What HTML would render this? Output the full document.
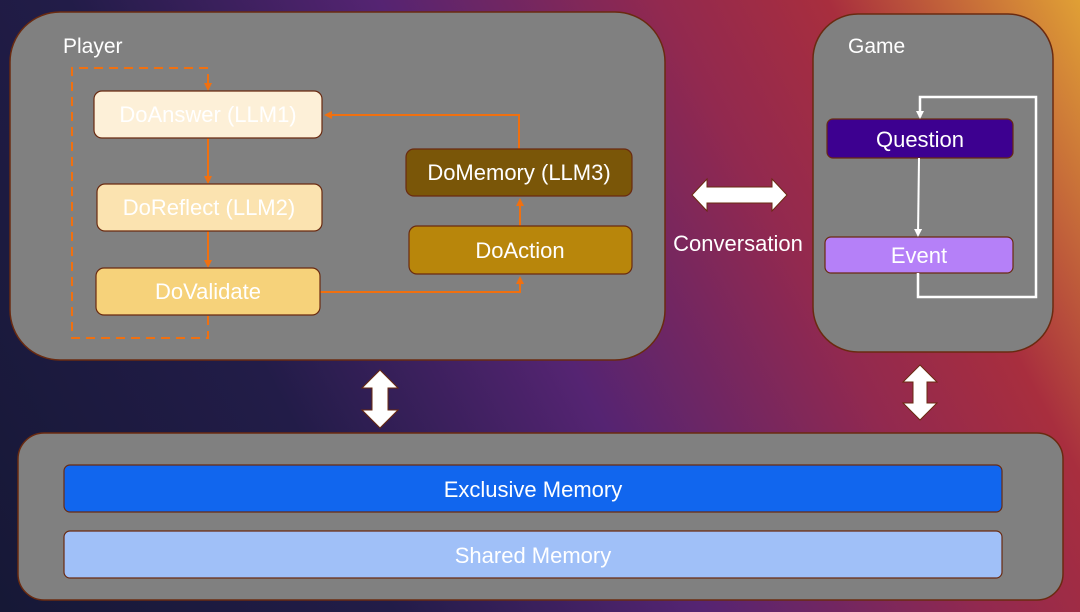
<!DOCTYPE html>
<html><head><meta charset="utf-8"><style>
html,body{margin:0;padding:0;width:1080px;height:612px;overflow:hidden}
body{background:linear-gradient(62deg,#161836 0%,#221c48 28%,#552472 50%,#92294f 70%,#a82e3e 82%,#e0a035 100%)}
svg{position:absolute;left:0;top:0}
text{font-family:"Liberation Sans",sans-serif;fill:#fff}
</style></head><body>
<svg width="1080" height="612" viewBox="0 0 1080 612">
<defs>
<marker id="ao" markerWidth="8" markerHeight="8" refX="6" refY="4" orient="auto" markerUnits="userSpaceOnUse"><path d="M0,0 L8,4 L0,8z" fill="#f07010"/></marker>
<marker id="aw" markerWidth="8" markerHeight="8" refX="6" refY="4" orient="auto" markerUnits="userSpaceOnUse"><path d="M0,0 L8,4 L0,8z" fill="#fff"/></marker>
</defs>
<rect x="10" y="12" width="655" height="348" rx="50" fill="#808080" stroke="#6a2a10" stroke-width="1.5"/>
<rect x="813" y="14" width="240" height="338" rx="45" fill="#808080" stroke="#6a2a10" stroke-width="1.5"/>
<rect x="18" y="433" width="1045" height="167" rx="26" fill="#808080" stroke="#6a2a10" stroke-width="1.5"/>
<text x="63" y="53" font-size="21">Player</text>
<text x="848" y="53" font-size="21">Game</text>
<path d="M208,316 V338 H72 V68 H208 V89" fill="none" stroke="#f07010" stroke-width="2" stroke-dasharray="9,6" marker-end="url(#ao)"/>
<path d="M208,138 V182" stroke="#f07010" stroke-width="2" marker-end="url(#ao)"/>
<path d="M208,231 V266" stroke="#f07010" stroke-width="2" marker-end="url(#ao)"/>
<path d="M320,292 H520 V278" fill="none" stroke="#f07010" stroke-width="2" marker-end="url(#ao)"/>
<path d="M520,226 V200" stroke="#f07010" stroke-width="2" marker-end="url(#ao)"/>
<path d="M519,149 V115 H326" fill="none" stroke="#f07010" stroke-width="2" marker-end="url(#ao)"/>
<g stroke="#6a2a10" stroke-width="1.2">
<rect x="94" y="91" width="228" height="47" rx="8" fill="#fdf0d8"/>
<rect x="97" y="184" width="225" height="47" rx="8" fill="#fbe3b0"/>
<rect x="96" y="268" width="224" height="47" rx="8" fill="#f6d27a"/>
<rect x="406" y="149" width="226" height="47" rx="8" fill="#7a5608"/>
<rect x="409" y="226" width="223" height="48" rx="8" fill="#b8860b"/>
<rect x="827" y="119" width="186" height="39" rx="6" fill="#3d0090"/>
<rect x="825" y="237" width="188" height="36" rx="6" fill="#b580f8"/>
<rect x="64" y="465" width="938" height="47" rx="6" fill="#1166ee"/>
<rect x="64" y="531" width="938" height="47" rx="6" fill="#a0c0f8"/>
</g>
<g font-size="22" text-anchor="middle">
<text x="208" y="122">DoAnswer (LLM1)</text>
<text x="209" y="215">DoReflect (LLM2)</text>
<text x="208" y="299">DoValidate</text>
<text x="519" y="180">DoMemory (LLM3)</text>
<text x="520" y="258">DoAction</text>
<text x="920" y="147">Question</text>
<text x="919" y="263">Event</text>
<text x="533" y="497">Exclusive Memory</text>
<text x="533" y="563">Shared Memory</text>
<text x="738" y="251">Conversation</text>
</g>
<path d="M919,158 L918,235" stroke="#fff" stroke-width="2" marker-end="url(#aw)"/>
<path d="M918,273 V297 H1036 V97 H920 V117" fill="none" stroke="#fff" stroke-width="2.5" marker-end="url(#aw)"/>
<path d="M692,195 L707,179 V187 H772 V179 L787,195 L772,211 V203 H707 V211Z" fill="#fff" stroke="#6a2a10"/>
<path d="M380,370 L398,388 H388 V410 H398 L380,428 L362,410 H372 V388 H362Z" fill="#fff" stroke="#6a2a10"/>
<path d="M920,365 L937,382 H927 V403 H937 L920,420 L903,403 H913 V382 H903Z" fill="#fff" stroke="#6a2a10"/>
</svg>
</body></html>
